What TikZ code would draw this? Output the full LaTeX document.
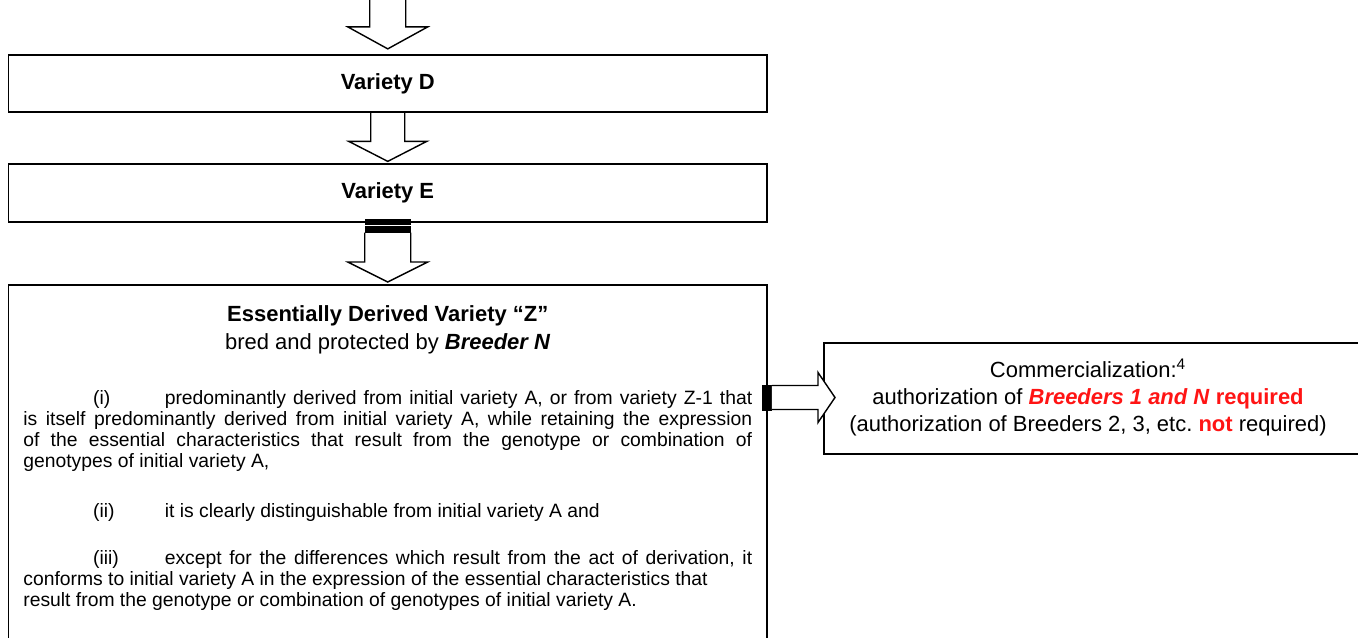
\documentclass[tikz,border=0pt]{standalone}
\usepackage{fontspec}
\setmainfont{Liberation Sans}
\usetikzlibrary{calc}
\definecolor{breedred}{RGB}{255,20,20}
\frenchspacing

\begin{document}
\begin{tikzpicture}[
    x=0.02cm, y=-0.02cm,
    varbox/.style     = {draw, line width=1pt, minimum width=15.17cm,
                         minimum height=1.15cm, inner sep=0pt,
                         font=\fontsize{12.5}{15}\selectfont\bfseries},
    edvbox/.style     = {draw, line width=1pt, minimum width=15.17cm,
                         minimum height=8.4cm, inner sep=0pt},
    combox/.style     = {draw, line width=1pt, minimum width=12cm,
                         minimum height=2.22cm, inner sep=0pt},
    % hollow block arrow between the boxes
    blockarrow/.style = {line width=0.8pt, line join=miter},
    ttl/.style        = {font=\fontsize{12.5}{15.9}\selectfont, align=center},
    comtxt/.style     = {font=\fontsize{12.5}{15.3}\selectfont, align=center},
    body/.style       = {font=\fontsize{11}{12}\selectfont, text width=14.58cm,
                         align=justify, inner sep=0pt},
]

% ============================================================
%  FRAME  (0,0) top-left  --  (1358,638) bottom-right
% ============================================================
\useasboundingbox (0,0) rectangle (1358,638);

% ----------------------------------------------------------
%  VARIETY D and E
% ----------------------------------------------------------
\node[varbox] (D) at (387.75, 83.5) {Variety D};
\node[varbox] (E) at (387.75, 193) {Variety E};

% ----------------------------------------------------------
%  ESSENTIALLY DERIVED VARIETY Z  (runs off the bottom)
% ----------------------------------------------------------
\node[edvbox, anchor=north] (Z) at (387.75, 284) {};
\node[ttl] (Zttl) at (387.75, 329.5)
    {\textbf{Essentially Derived Variety “Z”}\\
     bred and protected by \textbf{\textit{Breeder N}}};

\node[body, anchor=north west] (Zbody) at (23, 390)
    {\hspace*{39.7pt}\makebox[40.8pt][l]{(i)}predominantly derived from
     initial variety A, or from variety Z-1 that\linebreak is itself
     predominantly derived from initial variety A, while retaining the
     expression\linebreak of the essential characteristics that result
     from the genotype or combination of\linebreak genotypes of initial
     variety A,\par
     \vspace{16.3pt}
     \hspace*{39.7pt}\makebox[40.8pt][l]{(ii)}it is clearly
     distinguishable from initial variety A and\par
     \vspace{14.6pt}
     \hspace*{39.7pt}\makebox[40.8pt][l]{(iii)}except for the
     differences which result from the act of derivation, it\linebreak
     conforms to initial variety A in the expression of the essential
     characteristics that\newline result from the genotype or
     combination of genotypes of initial variety A.\par};

% ----------------------------------------------------------
%  COMMERCIALIZATION  (runs off the right edge)
% ----------------------------------------------------------
\node[combox, anchor=north west] (Cbox) at (823, 342) {};
\node[comtxt] (C) at (1088, 397.5)
    {Commercialization:\textsuperscript{4}\\
     authorization of \textcolor{breedred}{\textbf{\textit{Breeders 1 and N}}
     \textbf{required}}\\
     (authorization of Breeders 2, 3, etc.
     \textcolor{breedred}{\textbf{not}} required)};

% ============================================================
%  BLOCK ARROWS
% ============================================================

% ---- into D (cut at the top) ------------------------------
\draw[blockarrow] ($(D.north)+(-18,-60)$) -- ($(D.north)+(-18,-27)$)
    -- ($(D.north)+(-40,-27)$) -- ($(D.north)+(0,-5)$)
    -- ($(D.north)+(40,-27)$) -- ($(D.north)+(18,-27)$)
    -- ($(D.north)+(18,-60)$);

% ---- D -> E -------------------------------------------------
\draw[blockarrow] ($(D.south)+(-17,0)$) -- ($(E.north)+(-17,-22)$)
    -- ($(E.north)+(-39,-22)$) -- ($(E.north)+(0,-2)$)
    -- ($(E.north)+(39,-22)$) -- ($(E.north)+(17,-22)$)
    -- ($(D.south)+(17,0)$);

% ---- E -> Z, with the heavy band at its root ---------------
\fill ($(E.south)+(-23,-4)$) rectangle ($(E.south)+(23,10)$);
\draw[white, line width=0.6pt] ($(E.south)+(-23,3)$) -- ($(E.south)+(23,3)$);
\draw[blockarrow] ($(E.south)+(-23,10)$) -- ($(Z.north)+(-23,-22)$)
    -- ($(Z.north)+(-40,-22)$) -- ($(Z.north)+(0,-2)$)
    -- ($(Z.north)+(40,-22)$) -- ($(Z.north)+(23,-22)$)
    -- ($(E.south)+(23,10)$);

% ---- Z -> commercialization -------------------------------
\coordinate (zc) at (Z.east |- C);
\coordinate (cc) at (Cbox.west |- C);
\fill ($(zc)+(-6,-13)$) rectangle ($(zc)+(4,13)$);
\draw[blockarrow, fill=white] ($(zc)+(4,-12)$) -- ($(cc)+(-5,-12)$)
    -- ($(cc)+(-5,-25)$) -- ($(cc)+(12,0)$)
    -- ($(cc)+(-5,25)$) -- ($(cc)+(-5,12)$)
    -- ($(zc)+(4,12)$);

\end{tikzpicture}
\end{document}
